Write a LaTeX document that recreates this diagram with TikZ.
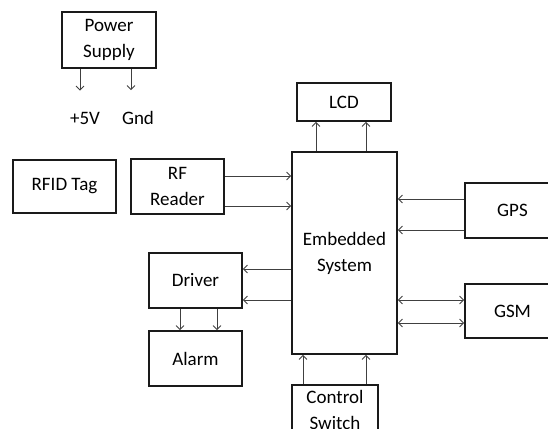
\documentclass[tikz,border=0pt]{standalone}
\usepackage{fontspec}
\setmainfont{Carlito}
\definecolor{BoxLine}{HTML}{1A1A1A}
\definecolor{WireGray}{HTML}{404040}
\definecolor{PageWhite}{HTML}{FFFFFF}
\usetikzlibrary{arrows.meta, calc}
\tikzset{
    block/.style={
        draw=BoxLine,
        line width=1.6pt,
        fill=PageWhite,
        minimum width=#1,
        inner sep=2pt,
        align=center,
        font=\fontsize{19}{26}\selectfont
    },
    block/.default=93pt,
    lbl/.style={
        inner sep=0pt,
        font=\fontsize{19}{26}\selectfont
    },
    wire/.style={
        -{Straight Barb[length=4pt,width=8pt]},
        line width=0.9pt,
        WireGray
    },
    biwire/.style={
        {Straight Barb[length=4pt,width=8pt]}-{Straight Barb[length=4pt,width=8pt]},
        line width=0.9pt,
        WireGray
    }
}

\begin{document}
\begin{tikzpicture}[x=1pt, y=-1pt]
        \useasboundingbox (0,0) rectangle (548,428);
        \clip (0,0) rectangle (548,428);

        % Power supply and its outputs
        \node[block=94pt, minimum height=56pt] (supply) at (109,40) {Power\\Supply};
        \node[lbl] (plus5) at (85,118) {+5V};
        \node[lbl] (gnd) at (138,118) {Gnd};
        \draw[wire, shorten >=21pt] ([xshift=-29pt]supply.south) -- ([xshift=-29pt]supply.south |- plus5.north);
        \draw[wire, shorten >=21pt] ([xshift=22pt]supply.south) -- ([xshift=22pt]supply.south |- gnd.north);

        % Tag and reader
        \node[block=103pt, minimum height=53pt] (tag) at (64.5,186.5) {RFID Tag};
        \node[block=93pt, minimum height=55pt] (reader) at (177.5,186.5) {RF\\Reader};

        % Embedded system box
        \node[block=105pt, minimum height=202pt] (embedded) at (344.5,253) {Embedded\\System};

        % LCD
        \node[block=94pt, minimum height=38pt] (lcd) at (344,102) {LCD};

        % GPS and GSM
        \node[block=95pt, minimum height=55pt] (gps) at (512.5,210.5) {GPS};
        \node[block=95pt, minimum height=54pt] (gsm) at (512.5,311) {GSM};

        % Driver and alarm
        \node[block=93pt, minimum height=55pt] (driver) at (195.5,280.5) {Driver};
        \node[block=93pt, minimum height=55pt] (alarm) at (195.5,358.5) {Alarm};

        % Control switch
        \node[block=86pt, minimum height=50pt] (switch) at (335,410) {Control\\Switch};

        % Connections
        \draw[wire] ([yshift=10.5pt]reader.east) -- ([yshift=10.5pt]reader.east -| embedded.west);
        \draw[wire] ([yshift=-19.5pt]reader.east) -- ([yshift=-19.5pt]reader.east -| embedded.west);
        \draw[wire] ([xshift=-28.5pt]embedded.north) -- ([xshift=-28.5pt]embedded.north |- lcd.south);
        \draw[wire] ([xshift=21.5pt]embedded.north) -- ([xshift=21.5pt]embedded.north |- lcd.south);
        \draw[wire] ([yshift=11.5pt]gps.west) -- ([yshift=11.5pt]gps.west -| embedded.east);
        \draw[wire] ([yshift=-19.5pt]gps.west) -- ([yshift=-19.5pt]gps.west -| embedded.east);
        \draw[biwire] ([yshift=11pt]gsm.west -| embedded.east) -- ([yshift=11pt]gsm.west);
        \draw[biwire] ([yshift=-12pt]gsm.west -| embedded.east) -- ([yshift=-12pt]gsm.west);
        \draw[wire] ([yshift=11.5pt]driver.east -| embedded.west) -- ([yshift=11.5pt]driver.east);
        \draw[wire] ([yshift=-19.5pt]driver.east -| embedded.west) -- ([yshift=-19.5pt]driver.east);
        \draw[wire] ([xshift=-15.5pt]driver.south) -- ([xshift=-15.5pt]driver.south |- alarm.north);
        \draw[wire] ([xshift=21.5pt]driver.south) -- ([xshift=21.5pt]driver.south |- alarm.north);
        \draw[wire] ([xshift=-32pt]switch.north) -- ([xshift=-32pt]switch.north |- embedded.south);
        \draw[wire] ([xshift=31pt]switch.north) -- ([xshift=31pt]switch.north |- embedded.south);
    \end{tikzpicture}
\end{document}
